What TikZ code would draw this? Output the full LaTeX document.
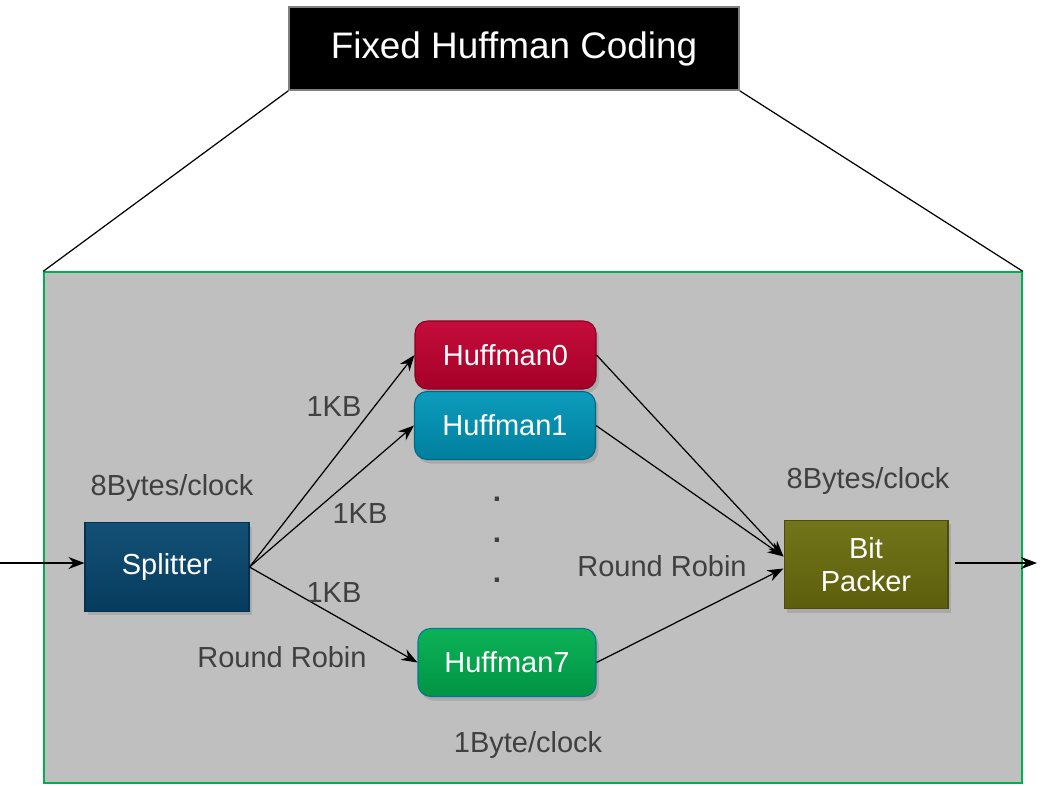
\documentclass[tikz,border=0pt]{standalone}
\usepackage{fontspec}
\setmainfont{Liberation Sans}
\usetikzlibrary{arrows.meta, positioning, calc, shadows}

\definecolor{panelgray}{HTML}{BFBFBF}
\definecolor{panelgreen}{HTML}{00B050}
\definecolor{labelgray}{HTML}{404040}
\definecolor{splitblue}{HTML}{07476F}
\definecolor{huffred}{HTML}{C20030}
\definecolor{huffteal}{HTML}{0096B9}
\definecolor{huffgreen}{HTML}{00AE4F}
\definecolor{packolive}{HTML}{6C6E0E}

\begin{document}
\begin{tikzpicture}[
  x=0.02cm, y=-0.02cm,
  font=\fontsize{16.5pt}{19pt}\selectfont,
  block/.style={rectangle, draw=#1!70!black, line width=0.6pt, top color=#1!95!white, bottom color=#1!85!black,
    text=white, align=center, inner sep=2pt, drop shadow={opacity=0.35, shadow xshift=0.6mm, shadow yshift=-0.8mm}},
  hblock/.style={block=#1, rounded corners=2.5mm, minimum width=3.62cm, minimum height=1.36cm},
  sblock/.style={block=#1, minimum width=3.28cm, minimum height=1.77cm},
  lbl/.style={text=labelgray},
  >={Stealth[length=3.2mm, width=2.4mm]},
  line width=0.7pt
]
  \useasboundingbox (0,0) rectangle (1050,785);

  % Outer panel and heading
  \node[rectangle, draw=panelgreen, fill=panelgray, line width=0.9pt, minimum width=19.56cm, minimum height=10.22cm] (panel) at (533,527.5) {};
  \node[rectangle, draw=gray, fill=black, text=white, line width=1pt, minimum width=9cm, minimum height=1.66cm,
    font=\fontsize{21pt}{25pt}\selectfont] (title) at (514,48.5) {Fixed Huffman Coding};
  \draw (title.south west) -- (panel.north west);
  \draw (title.south east) -- (panel.north east);

  % Blocks
  \node[sblock=splitblue] (split) at (167,567) {Splitter};
  \node[hblock=huffred] (huff0) at (505.5,355) {Huffman0};
  \node[hblock=huffteal] (huff1) at (505,425.5) {Huffman1};
  \node[hblock=huffgreen, draw=huffteal!80!black, minimum width=3.56cm] (huff7) at (507,662.5) {Huffman7};
  \node[sblock=packolive] (pack) at (866,564.5) {Bit\\Packer};

  % Dots between Huffman1 and Huffman7
  \node[lbl, align=center, font=\fontsize{17pt}{23pt}\selectfont\bfseries] (dots) at (497,540) {.\\.\\.};

  % In and out
  \coordinate (in) at (0,563);
  \coordinate (out) at (1037,563);
  \draw[->] (in) -- (split.west |- in);
  \draw[->] (pack.east |- out) ++(6,0) -- (out);

  % Fan out
  \draw[->] (split.east) -- (huff0.west);
  \draw[->] (split.east) -- (huff1.west);
  \draw[->] (split.east) -- (huff7.west);

  % Fan in
  \coordinate (packin) at ($(pack.west)+(0,-8)$);
  \draw[->] (huff0.east) -- (packin);
  \draw[->] (huff1.east) -- (packin);
  \draw[->] (huff7.east) -- ($(pack.west)+(0,4)$);

  % Labels
  \node[lbl] (rate1) at (172,488) {8Bytes/clock};
  \node[lbl] (kb0) at (334,407) {1KB};
  \node[lbl] (kb1) at (360,514) {1KB};
  \node[lbl] (kb7) at (334,593) {1KB};
  \node[lbl] (rr1) at (282,657) {Round Robin};
  \node[lbl] (rr2) at (662,566) {Round Robin};
  \node[lbl] (rate2) at (868,481) {8Bytes/clock};
  \node[lbl] (rate3) at (528,745) {1Byte/clock};
\end{tikzpicture}
\end{document}
